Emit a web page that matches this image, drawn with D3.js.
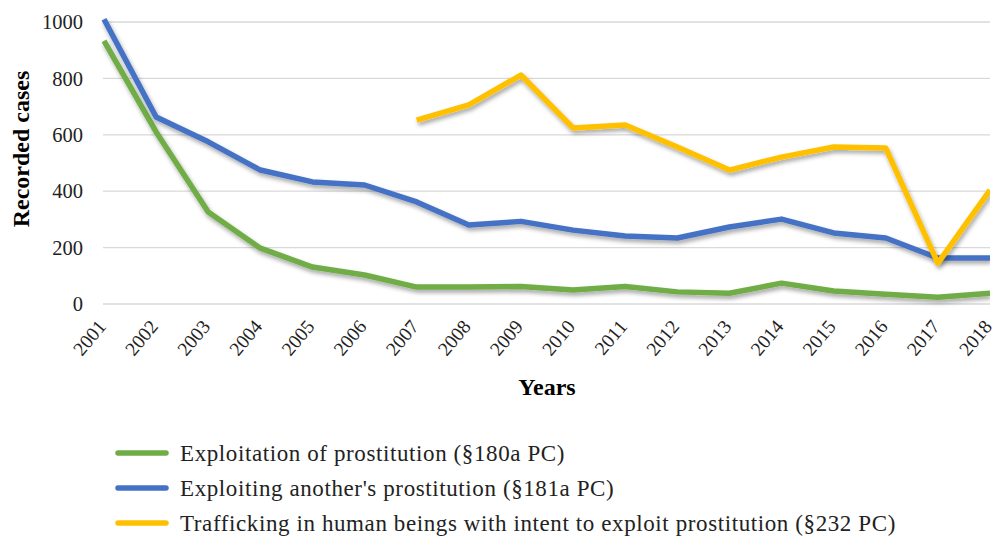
<!DOCTYPE html>
<html>
<head>
<meta charset="utf-8">
<script src="https://cdn.jsdelivr.net/npm/d3@7"></script>
<style>
  body { margin: 0; background: #fff; }
  svg { display: block; font-family: "Liberation Serif", "Times New Roman", serif; }
</style>
</head>
<body>
<svg id="chart" width="997" height="541"></svg>
<script>
const years = ["2001","2002","2003","2004","2005","2006","2007","2008","2009","2010","2011","2012","2013","2014","2015","2016","2017","2018"];
const exploitation = [933, 610, 326, 198, 131, 103, 60, 60, 62, 50, 62, 43, 38, 74, 46, 35, 24, 38];
const exploiting = [1010, 663, 575, 475, 433, 422, 362, 280, 293, 262, 241, 234, 273, 301, 252, 234, 163, 163];
// trafficking series starts in 2007
const trafficking = [null, null, null, null, null, null, 652, 706, 812, 624, 635, 557, 475, 521, 557, 553, 145, 404];
const yTicks = [0, 200, 400, 600, 800, 1000];

const series = [
  { name: "Exploitation of prostitution (§180a PC)", values: exploitation, color: "#70ad47" },
  { name: "Exploiting another's prostitution (§181a PC)", values: exploiting, color: "#4472c4" },
  { name: "Trafficking in human beings with intent to exploit prostitution (§232 PC)", values: trafficking, color: "#ffc000" }
];

const svg = d3.select("#chart");
const plotLeft = 104, plotRight = 990, plotTop = 22, plotBottom = 304;

const x = d3.scalePoint().domain(years).range([plotLeft, plotRight]);
const y = d3.scaleLinear().domain([0, 1000]).range([plotBottom, plotTop]);

const defs = svg.append("defs");
const f = defs.append("filter").attr("id", "shadow")
  .attr("x", "-5%").attr("y", "-20%").attr("width", "110%").attr("height", "140%");
f.append("feDropShadow").attr("dx", 1.5).attr("dy", 3).attr("stdDeviation", 2.2)
  .attr("flood-color", "#000").attr("flood-opacity", 0.35);
defs.append("clipPath").attr("id", "plot").append("rect")
  .attr("x", 0).attr("y", 0).attr("width", plotRight).attr("height", 541);

// gridlines
svg.append("g").selectAll("line").data(yTicks).enter().append("line")
  .attr("x1", plotLeft - 1).attr("x2", plotRight)
  .attr("y1", d => y(d)).attr("y2", d => y(d))
  .attr("stroke", "#d9d9d9").attr("stroke-width", 1.3);

// y tick labels
svg.append("g").selectAll("text").data(yTicks).enter().append("text")
  .attr("x", 83).attr("y", d => y(d)).attr("dy", "0.35em")
  .attr("text-anchor", "end").attr("font-size", 20.5).attr("fill", "#222")
  .text(d => d);

// x tick labels
svg.append("g").selectAll("text").data(years).enter().append("text")
  .attr("transform", d => "translate(" + (x(d) + 3) + "," + 327 + ") rotate(-50)")
  .attr("text-anchor", "end").attr("font-size", 19.5).attr("fill", "#222")
  .text(d => d);

// axis titles
svg.append("text")
  .attr("transform", "translate(29,149) rotate(-90)")
  .attr("text-anchor", "middle").attr("font-size", 24).attr("font-weight", "bold")
  .text("Recorded cases");
svg.append("text")
  .attr("x", 547).attr("y", 395)
  .attr("text-anchor", "middle").attr("font-size", 24).attr("font-weight", "bold")
  .text("Years");

// lines
const line = d3.line()
  .defined(d => d != null)
  .x((d, i) => x(years[i]))
  .y(d => y(d));

svg.append("g").attr("clip-path", "url(#plot)")
  .selectAll("path").data(series).enter().append("path")
  .attr("d", d => line(d.values))
  .attr("fill", "none")
  .attr("stroke", d => d.color)
  .attr("stroke-width", 5.5)
  .attr("stroke-linejoin", "round")
  .attr("filter", "url(#shadow)");

// legend
const legend = svg.append("g").selectAll("g").data(series).enter().append("g")
  .attr("transform", (d, i) => "translate(118," + (453 + i * 35) + ")");
legend.append("line")
  .attr("x1", 0).attr("x2", 48)
  .attr("stroke", d => d.color).attr("stroke-width", 5.5).attr("stroke-linecap", "round");
legend.append("text")
  .attr("x", 62).attr("dy", "0.35em").attr("font-size", 23).attr("fill", "#222")
  .attr("letter-spacing", 0.6)
  .text(d => d.name);
</script>
</body>
</html>
